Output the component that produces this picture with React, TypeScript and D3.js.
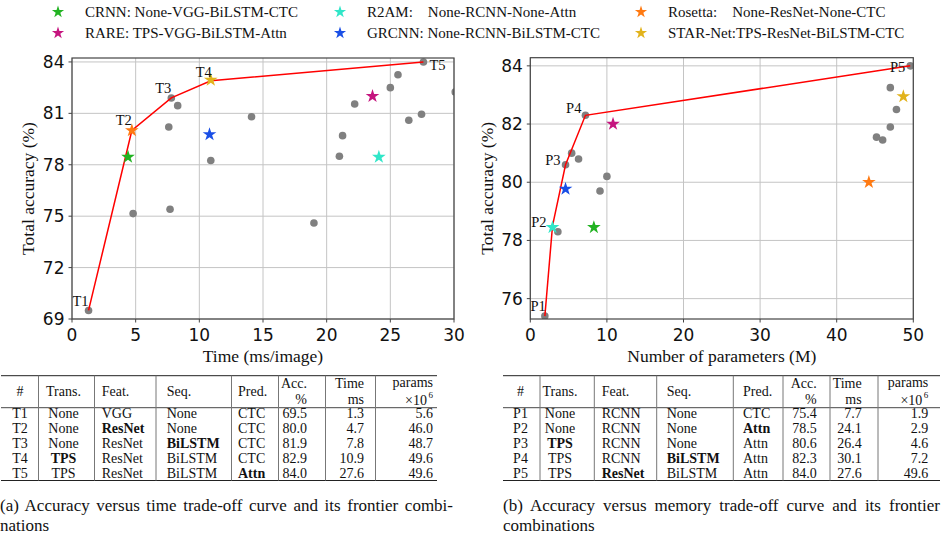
import React, { useLayoutEffect, useRef } from 'react';
import * as d3 from 'd3';

// ---------------- DATA ----------------
const modelLegendLabels = [
  'CRNN: None-VGG-BiLSTM-CTC',
  'RARE: TPS-VGG-BiLSTM-Attn',
  'R2AM:    None-RCNN-None-Attn',
  'GRCNN: None-RCNN-BiLSTM-CTC',
  'Rosetta:    None-ResNet-None-CTC',
  'STAR-Net:TPS-ResNet-BiLSTM-CTC',
];
const modelTime = [4.4, 23.6, 24.1, 10.8, 4.7, 10.9];
const modelParams = [8.3, 10.8, 2.9, 4.6, 44.2, 48.7];
const modelAcc = [78.45, 82.0, 78.45, 79.77, 80.0, 82.95];

const timeOtherX = [1.3, 4.8, 7.6, 7.7, 7.8, 8.3, 10.9, 14.1, 19.0, 21.0, 21.25, 22.2, 25.0, 25.6, 26.45, 27.45, 27.6, 30.1];
const timeOtherY = [69.5, 75.15, 80.2, 75.4, 81.9, 81.45, 78.25, 80.8, 74.6, 78.5, 79.7, 81.55, 82.5, 83.25, 80.6, 80.95, 84.0, 82.25];

const paramOtherX = [1.9, 3.6, 4.6, 5.4, 6.3, 7.2, 9.1, 10.0, 45.2, 46.0, 47.0, 47.0, 47.8, 49.6];
const paramOtherY = [75.4, 78.3, 80.6, 81.0, 80.8, 82.3, 79.7, 80.2, 81.55, 81.45, 83.25, 81.9, 82.5, 84.0];

const timeFrontierIds = ['T1', 'T2', 'T3', 'T4', 'T5'];
const timeFrontierX = [1.3, 4.7, 7.8, 10.9, 27.6];
const timeFrontierY = [69.5, 80.0, 81.9, 82.9, 84.0];

const paramFrontierIds = ['P1', 'P2', 'P3', 'P4', 'P5'];
const paramFrontierX = [1.9, 2.9, 4.6, 7.2, 49.6];
const paramFrontierY = [75.4, 78.5, 80.6, 82.3, 84.0];

const timeTicksX = [0, 5, 10, 15, 20, 25, 30];
const timeTicksY = [69, 72, 75, 78, 81, 84];
const paramTicksX = [0, 10, 20, 30, 40, 50];
const paramTicksY = [76, 78, 80, 82, 84];

const tableTimeTrans = ['None', 'None', 'None', 'TPS', 'TPS'];
const tableTimeFeat = ['VGG', 'ResNet', 'ResNet', 'ResNet', 'ResNet'];
const tableTimeSeq = ['None', 'None', 'BiLSTM', 'BiLSTM', 'BiLSTM'];
const tableTimePred = ['CTC', 'CTC', 'CTC', 'CTC', 'Attn'];
const tableTimeAcc = [69.5, 80.0, 81.9, 82.9, 84.0];
const tableTimeMs = [1.3, 4.7, 7.8, 10.9, 27.6];
const tableTimeParams = [5.6, 46.0, 48.7, 49.6, 49.6];

const tableParamTrans = ['None', 'None', 'TPS', 'TPS', 'TPS'];
const tableParamFeat = ['RCNN', 'RCNN', 'RCNN', 'RCNN', 'ResNet'];
const tableParamSeq = ['None', 'None', 'None', 'BiLSTM', 'BiLSTM'];
const tableParamPred = ['CTC', 'Attn', 'Attn', 'Attn', 'Attn'];
const tableParamAcc = [75.4, 78.5, 80.6, 82.3, 84.0];
const tableParamMs = [7.7, 24.1, 26.4, 30.1, 27.6];
const tableParamParams = [1.9, 2.9, 4.6, 7.2, 49.6];

const captionA = ['(a) Accuracy versus time trade-off curve and its frontier combi-', 'nations'];
const captionB = ['(b) Accuracy versus memory trade-off curve and its frontier', 'combinations'];

// ---------------- STYLE ----------------
const SERIF = '"Liberation Serif", "Times New Roman", serif';
const SANS = '"DejaVu Sans", sans-serif';
const modelColors = ['#22b322', '#c5157f', '#30e6c8', '#1a4fe6', '#ff7a12', '#e2b31c'];
const GRAY = '#808080';
const GRID = '#c4c4c4';
const SPINE = '#444';

const starPath = (size: number) => d3.symbol().type(d3.symbolStar).size(size)() as string;

const timeLabelOffsets: [number, number, string][] = [
  [0, -9, 'end'], [0, -10, 'end'], [0, -10, 'end'], [1, -9, 'end'], [6, 3, 'start'],
];
const paramLabelOffsets: [number, number, string][] = [
  [1, -10, 'end'], [-6, -4, 'end'], [-5, -5, 'end'], [-4, -7, 'end'], [-5, 1.5, 'end'],
];

type PanelProps = {
  xDomain: [number, number]; yDomain: [number, number];
  xRange: [number, number]; yRange: [number, number];
  xTicks: number[]; yTicks: number[];
  otherX: number[]; otherY: number[];
  modelX: number[];
  frontX: number[]; frontY: number[]; frontIds: string[];
  labelOffsets: [number, number, string][];
  xLabel: string; yLabelX: number; clipId: string;
};

function Panel(p: PanelProps) {
  const x = d3.scaleLinear().domain(p.xDomain).range(p.xRange);
  const y = d3.scaleLinear().domain(p.yDomain).range(p.yRange);
  const [x0, x1] = p.xRange;
  const [yb, yt] = p.yRange;
  const line = d3.line<number>().x((_, i) => x(p.frontX[i])).y((_, i) => y(p.frontY[i]));
  return (
    <g>
      <defs>
        <clipPath id={p.clipId}>
          <rect x={x0} y={yt} width={x1 - x0} height={yb - yt} />
        </clipPath>
      </defs>
      {p.xTicks.map((t) => (
        <line key={'gx' + t} x1={x(t)} x2={x(t)} y1={yb} y2={yt} stroke={GRID} strokeWidth={1} />
      ))}
      {p.yTicks.map((t) => (
        <line key={'gy' + t} x1={x0} x2={x1} y1={y(t)} y2={y(t)} stroke={GRID} strokeWidth={1} />
      ))}
      <g clipPath={`url(#${p.clipId})`}>
        {p.otherX.map((v, i) => (
          <circle key={'o' + i} cx={x(v)} cy={y(p.otherY[i])} r={3.8} fill={GRAY} />
        ))}
        <path d={line(p.frontX) as string} fill="none" stroke="#ff0000" strokeWidth={1.5} />
        {p.modelX.map((v, i) => (
          <path key={'m' + i} d={starPath(58)} transform={`translate(${x(v)},${y(modelAcc[i])})`} fill={modelColors[i]} />
        ))}
      </g>
      {p.frontIds.map((id, i) => {
        const [dx, dy, anchor] = p.labelOffsets[i];
        return (
          <text key={id} x={x(p.frontX[i]) + dx} y={y(p.frontY[i]) + dy} textAnchor={anchor as any}
            dominantBaseline="central" fontFamily={SERIF} fontSize={14.5} fill="#111">{id}</text>
        );
      })}
      <rect x={x0} y={yt} width={x1 - x0} height={yb - yt} fill="none" stroke={SPINE} strokeWidth={1.2} />
      {p.xTicks.map((t) => (
        <g key={'tx' + t}>
          <line x1={x(t)} x2={x(t)} y1={yb} y2={yb + 3.5} stroke={SPINE} strokeWidth={1} />
          <text x={x(t)} y={yb + 16} textAnchor="middle" dominantBaseline="central" fontFamily={SANS} fontSize={17} fill="#111">{t}</text>
        </g>
      ))}
      {p.yTicks.map((t) => (
        <g key={'ty' + t}>
          <line x1={x0 - 3.5} x2={x0} y1={y(t)} y2={y(t)} stroke={SPINE} strokeWidth={1} />
          <text x={x0 - 7.5} y={y(t)} textAnchor="end" dominantBaseline="central" fontFamily={SANS} fontSize={17} fill="#111">{t}</text>
        </g>
      ))}
      <text x={(x0 + x1) / 2} y={355.5} textAnchor="middle" dominantBaseline="central" fontFamily={SERIF} fontSize={17.5} fill="#111">{p.xLabel}</text>
      <text transform={`translate(${p.yLabelX},${(yb + yt) / 2}) rotate(-90)`} textAnchor="middle" dominantBaseline="central"
        fontFamily={SERIF} fontSize={17.5} fill="#111">Total accuracy (%)</text>
    </g>
  );
}

type TableLayout = {
  left: number; right: number;
  colX: number[]; colAnchor: string[]; vlines: number[];
};

function Table({ ids, cols, layout }: { ids: string[]; cols: (string | number)[][]; layout: TableLayout }) {
  const top = 375.7, mid = 407.7, bottom = 480.5;
  const rowY = [413.8, 428.7, 443.6, 458.5, 473.4];
  const fs = 14;
  const allCols = [ids, ...cols];
  const txt = (i: number, y: number, content: any, bold = false, key?: string) => (
    <text key={key} x={layout.colX[i]} y={y} textAnchor={layout.colAnchor[i] as any} dominantBaseline="central"
      fontFamily={SERIF} fontSize={fs} fontWeight={bold ? 'bold' : 'normal'} fill="#111">{content}</text>
  );
  return (
    <g>
      <line x1={layout.left} x2={layout.right} y1={top} y2={top} stroke="#222" strokeWidth={1} />
      <line x1={layout.left} x2={layout.right} y1={mid} y2={mid} stroke="#333" strokeWidth={0.9} />
      <line x1={layout.left} x2={layout.right} y1={bottom} y2={bottom} stroke="#222" strokeWidth={1} />
      {layout.vlines.map((v, i) => (
        <line key={'v' + i} x1={v} x2={v} y1={top} y2={bottom} stroke="#777" strokeWidth={1} />
      ))}
      {txt(0, 391.7, '#')}
      {txt(1, 391.7, 'Trans.')}
      {txt(2, 391.7, 'Feat.')}
      {txt(3, 391.7, 'Seq.')}
      {txt(4, 391.7, 'Pred.')}
      {txt(5, 383, 'Acc.')}
      {txt(5, 399, '%')}
      {txt(6, 383, 'Time')}
      {txt(6, 399, 'ms')}
      {txt(7, 382, 'params')}
      <text x={layout.colX[7] - 6} y={400} textAnchor="end" dominantBaseline="central"
        fontFamily={SERIF} fontSize={fs} fill="#111">×10</text>
      <text x={layout.colX[7]} y={395} textAnchor="end" dominantBaseline="central"
        fontFamily={SERIF} fontSize={9} fill="#111">6</text>
      {rowY.map((yy, r) =>
        allCols.map((c, ci) => {
          const v = c[r];
          const s = typeof v === 'number' ? v.toFixed(1) : v;
          const bold = ci >= 1 && ci <= 4 && r > 0 && c[r] !== c[r - 1];
          return txt(ci, yy, s, bold, `c${r}-${ci}`);
        })
      )}
    </g>
  );
}

function JustifiedText({ x, y, width, text }: { x: number; y: number; width: number; text: string }) {
  const ref = useRef<SVGTextElement>(null);
  useLayoutEffect(() => {
    const el = ref.current;
    if (!el) return;
    el.setAttribute('word-spacing', '0');
    const w = el.getComputedTextLength();
    const n = (text.match(/ /g) || []).length;
    if (n > 0 && w < width) el.setAttribute('word-spacing', String((width - w) / n));
  }, [text, width]);
  return (
    <text ref={ref} x={x} y={y} dominantBaseline="central" fontFamily={SERIF} fontSize={17} fill="#111">{text}</text>
  );
}

export default function App() {
  const legendColX = [58, 340, 641];
  const legendRowY = [12, 33];
  return (
    <svg width={943} height={535} style={{ position: 'absolute', left: 0, top: 0, background: '#fff' }}>
      <rect width={943} height={535} fill="#fff" />
      {modelLegendLabels.map((lab, i) => {
        const cx = legendColX[Math.floor(i / 2)];
        const cy = legendRowY[i % 2];
        return (
          <g key={'lg' + i}>
            <path d={starPath(46)} transform={`translate(${cx},${cy})`} fill={modelColors[i]} />
            <text x={cx + 27} y={cy} dominantBaseline="central" fontFamily={SERIF} fontSize={15} fill="#111"
              style={{ whiteSpace: 'pre' }}>{lab}</text>
          </g>
        );
      })}
      <Panel xDomain={[0, 30]} yDomain={[69, 84.23]} xRange={[72, 454]} yRange={[319, 58]}
        xTicks={timeTicksX} yTicks={timeTicksY} otherX={timeOtherX} otherY={timeOtherY}
        modelX={modelTime} frontX={timeFrontierX} frontY={timeFrontierY} frontIds={timeFrontierIds}
        labelOffsets={timeLabelOffsets} xLabel="Time (ms/image)" yLabelX={28.3} clipId="clipA" />
      <Panel xDomain={[0, 50]} yDomain={[75.3, 84.28]} xRange={[530.3, 913.3]} yRange={[319, 57.7]}
        xTicks={paramTicksX} yTicks={paramTicksY} otherX={paramOtherX} otherY={paramOtherY}
        modelX={modelParams} frontX={paramFrontierX} frontY={paramFrontierY} frontIds={paramFrontierIds}
        labelOffsets={paramLabelOffsets} xLabel="Number of parameters (M)" yLabelX={486.7} clipId="clipB" />
      <Table ids={timeFrontierIds}
        cols={[tableTimeTrans, tableTimeFeat, tableTimeSeq, tableTimePred, tableTimeAcc, tableTimeMs, tableTimeParams]}
        layout={{
          left: 1, right: 437,
          colX: [20, 63.5, 101.7, 166.7, 238, 307, 364, 433],
          colAnchor: ['middle', 'middle', 'start', 'start', 'start', 'end', 'end', 'end'],
          vlines: [38.5, 94.5, 156, 231.5, 278.5, 325.5, 375.5],
        }} />
      <Table ids={paramFrontierIds}
        cols={[tableParamTrans, tableParamFeat, tableParamSeq, tableParamPred, tableParamAcc, tableParamMs, tableParamParams]}
        layout={{
          left: 503, right: 940,
          colX: [520.5, 560, 601.7, 666.7, 743, 816.7, 861.7, 928.3],
          colAnchor: ['middle', 'middle', 'start', 'start', 'start', 'end', 'end', 'end'],
          vlines: [540, 594.3, 656.7, 733.3, 783, 830, 878],
        }} />
      <JustifiedText x={0} y={505} width={453} text={captionA[0]} />
      <text x={0} y={525} dominantBaseline="central" fontFamily={SERIF} fontSize={17} fill="#111">{captionA[1]}</text>
      <JustifiedText x={503} y={505} width={437} text={captionB[0]} />
      <text x={503} y={525} dominantBaseline="central" fontFamily={SERIF} fontSize={17} fill="#111">{captionB[1]}</text>
    </svg>
  );
}
